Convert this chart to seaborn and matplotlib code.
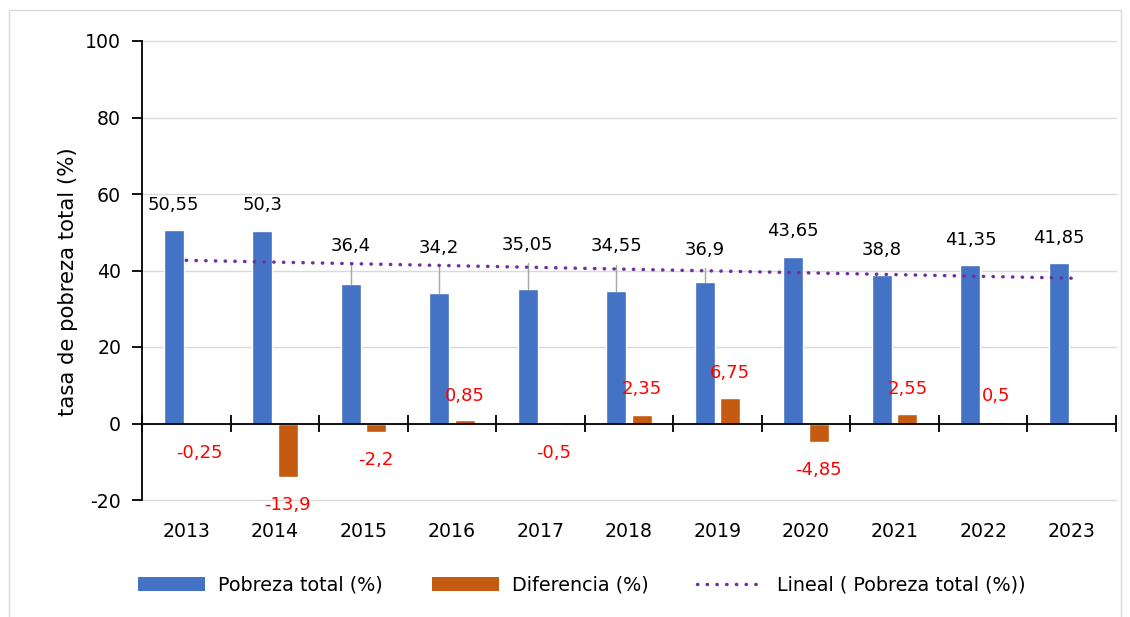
import numpy as np
import pandas as pd
import matplotlib
matplotlib.use("Agg")
import matplotlib.pyplot as plt
import seaborn as sns
from matplotlib.patches import Patch, Rectangle
from matplotlib.lines import Line2D

# Data
years = ['2013', '2014', '2015', '2016', '2017', '2018', '2019', '2020', '2021', '2022', '2023']
pobreza = [50.55, 50.3, 36.4, 34.2, 35.05, 34.55, 36.9, 43.65, 38.8, 41.35, 41.85]
diferencia = [-0.25, -13.9, -2.2, 0.85, -0.5, 2.35, 6.75, -4.85, 2.55, 0.5, np.nan]
series = ['Pobreza total (%)', 'Diferencia (%)']
trend_label = 'Lineal ( Pobreza total (%))'

BLUE = '#4472C4'
ORANGE = '#C55A11'
PURPLE = '#7030A0'
GRID = '#D9D9D9'

df = pd.DataFrame({
    'anio': years * 2,
    'serie': [series[0]] * len(years) + [series[1]] * len(years),
    'valor': pobreza + diferencia,
}).dropna()

sns.set_style('white')
plt.rcParams['font.family'] = ['DejaVu Sans']
plt.rcParams['axes.unicode_minus'] = False
for key in ['text.color', 'axes.labelcolor', 'xtick.color', 'ytick.color']:
    plt.rcParams[key] = 'black'
FS = 13

fig = plt.figure(figsize=(11.3, 6.17), dpi=100)
ax = fig.add_axes([142 / 1130, 117 / 617, 974 / 1130, 459 / 617])

sns.barplot(data=df, x='anio', y='valor', hue='serie', hue_order=series,
            palette=[BLUE, ORANGE], saturation=1, width=0.576, gap=0.215,
            legend=False, ax=ax, zorder=2)

# linear trendline over category positions
dots = (0, (0.1, 2.7))
sns.regplot(x=np.arange(len(years)), y=np.array(pobreza), ax=ax, scatter=False,
            ci=None, truncate=True, color=PURPLE,
            line_kws={'linestyle': dots, 'linewidth': 2.5,
                      'dash_capstyle': 'round', 'zorder': 5})

ax.set_xlim(-0.5, len(years) - 0.5)
ax.set_ylim(-20, 100)
ax.set_yticks(range(-20, 101, 20))
ax.set_xlabel('')
ax.set_ylabel('tasa de pobreza total (%)', fontsize=15.3)
ax.yaxis.set_label_coords(-0.066, 0.475)

# axes styling (Excel-like)
for side in ['top', 'right', 'bottom']:
    ax.spines[side].set_visible(False)
ax.spines['left'].set_color('black')
ax.spines['left'].set_linewidth(1.3)
ax.yaxis.grid(True, color=GRID, linewidth=1)
ax.set_axisbelow(True)
for gl in ax.get_ygridlines():
    gl.set_clip_on(False)
ax.tick_params(axis='y', direction='out', length=7, width=1.3, color='black',
               labelsize=13.6, pad=8, left=True)
ax.tick_params(axis='x', length=0, labelsize=13.6, pad=16)

# horizontal axis line at zero with category boundary ticks
ax.axhline(0, color='black', linewidth=1.3, zorder=4)
ax.vlines(np.arange(-0.5, len(years)), -2.1, 2.1, color='black',
          linewidth=1.3, zorder=4, clip_on=False)

# data labels
def fmt(v):
    return f"{v:g}".replace('.', ',')

pob_label_y = [57, 57, 46.4, 45.8, 46.7, 46.3, 45.4, 50.2, 45.4, 48, 48.4]
dif_label_y = [-7.7, -21.3, -9.6, 7.1, -7.7, 8.9, 13.2, -12.2, 9.0, 7.1]

for bar, val, ly in zip(ax.containers[0], pobreza, pob_label_y):
    cx = bar.get_x() + bar.get_width() / 2
    ax.text(cx, ly, fmt(val), ha='center', va='center', fontsize=FS,
            color='black', zorder=6)
    if ly - val > 8:
        ax.plot([cx, cx], [ly - 4.8, val], color='#A6A6A6', linewidth=1,
                zorder=3)

for bar, val, ly in zip(ax.containers[1], diferencia, dif_label_y):
    cx = bar.get_x() + bar.get_width() / 2
    ax.text(cx, ly, fmt(val), ha='center', va='center', fontsize=FS,
            color='#FF0000', zorder=6, clip_on=False)

# legend
handles = [
    Patch(facecolor=BLUE, edgecolor='none'),
    Patch(facecolor=ORANGE, edgecolor='none'),
    Line2D([], [], color=PURPLE, linestyle=dots, linewidth=2.5,
           dash_capstyle='round'),
]
fig.legend(handles, series + [trend_label], loc='center',
           bbox_to_anchor=(0.515, 0.052), ncol=3, frameon=False, fontsize=13.8,
           handlelength=3.5, handleheight=0.75, handletextpad=0.68,
           columnspacing=2.55)

# chart area border
fig.patches.append(Rectangle((9 / 1130, -0.05), (1121 - 9) / 1130,
                             1 - 10 / 617 + 0.05, transform=fig.transFigure,
                             fill=False, edgecolor=GRID, linewidth=1))

fig.savefig('out.png', dpi=100)
